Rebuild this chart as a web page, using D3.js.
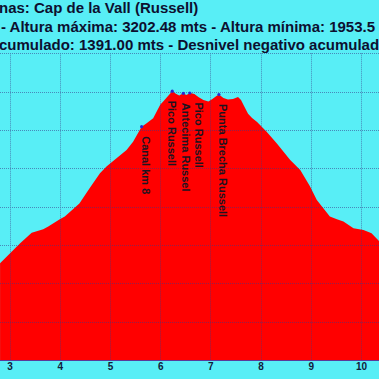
<!DOCTYPE html>
<html><head><meta charset="utf-8">
<script src="https://cdn.jsdelivr.net/npm/d3@7/dist/d3.min.js"></script>
<style>
html,body{margin:0;padding:0;background:#58eef6;overflow:hidden;}
svg{display:block;}
</style></head>
<body>
<svg id="chart" width="379" height="379"></svg>
<script>
// ---- data ----
const titleLines = [
  "nas: Cap de la Vall (Russell)",
  "- Altura máxima: 3202.48 mts - Altura mínima: 1953.5",
  "cumulado: 1391.00 mts - Desnivel negativo acumulado"
];
const kmTicks = [3, 4, 5, 6, 7, 8, 9, 10];
const elevTicks = [1800, 2000, 2200, 2400, 2600, 2800, 3000, 3200, 3400];

const profileKm = [2.81, 3.01, 3.21, 3.44, 3.67, 3.77, 4.00, 4.10, 4.39, 4.59, 4.80, 4.93, 5.13, 5.33, 5.46,
  5.63, 5.73, 5.86, 5.93, 6.00, 6.06, 6.16, 6.24, 6.32, 6.38, 6.46, 6.52, 6.60, 6.68, 6.76, 6.86, 6.96,
  7.04, 7.12, 7.17, 7.26, 7.35, 7.45, 7.55, 7.61, 7.67, 7.75, 7.83, 7.93, 8.12, 8.32, 8.59, 8.79, 8.98,
  9.12, 9.25, 9.38, 9.52, 9.65, 9.85, 10.05, 10.21, 10.36];
const profileElev = [2305, 2357, 2409, 2464, 2482, 2496, 2534, 2548, 2617, 2695, 2774, 2809, 2852, 2896, 2939,
  3017, 3035, 3061, 3096, 3131, 3148, 3179, 3202, 3188, 3180, 3191, 3183, 3193, 3188, 3172, 3157, 3149,
  3162, 3177, 3185, 3167, 3159, 3162, 3172, 3157, 3125, 3084, 3063, 3042, 2991, 2931, 2844, 2791, 2708,
  2635, 2592, 2548, 2534, 2522, 2487, 2478, 2461, 2421];

const waypointNames = ["Canal km 8", "Pico Russell", "Antecima Russel", "Pico Russell", "Punta Brecha Russell"];
const waypointKm = [5.63, 6.24, 6.46, 6.59, 7.17];
const waypointElev = [3017, 3202.48, 3191, 3193, 3185];

// ---- drawing ----
const W = 379, H = 379;
const svg = d3.select("#chart");
const x = d3.scaleLinear().domain([3, 10]).range([9.6, 361]);
const y = d3.scaleLinear().domain([1800, 3400]).range([360, 53.3]);

svg.append("rect").attr("width", W).attr("height", H).attr("fill", "#58eef6");

const profile = profileKm.map((k, i) => ({ km: k, elev: profileElev[i] }));
const area = d3.area().x(d => x(d.km)).y0(y(1800)).y1(d => y(d.elev));
svg.append("path").datum(profile).attr("d", area).attr("fill", "#ff0000");

// gridlines
const grid = svg.append("g").attr("stroke", "#3a3a8a").attr("stroke-width", 1)
  .attr("stroke-dasharray", "1,1").attr("opacity", 0.55);
grid.selectAll("line.v").data(kmTicks).join("line")
  .attr("x1", d => Math.round(x(d)) + 0.5).attr("x2", d => Math.round(x(d)) + 0.5)
  .attr("y1", y(3400)).attr("y2", y(1800));
grid.selectAll("line.h").data(elevTicks.filter(e => e > 1800)).join("line")
  .attr("x1", 0).attr("x2", W)
  .attr("y1", d => Math.round(y(d)) + 0.5).attr("y2", d => Math.round(y(d)) + 0.5);

// x axis
const xAxis = d3.axisBottom(x).tickValues(kmTicks).tickSize(0).tickPadding(3).tickFormat(d3.format("d"));
const ax = svg.append("g").attr("transform", `translate(0,${y(1800)})`).call(xAxis);
ax.select(".domain").attr("stroke", "#5a3a9a").attr("d", `M0,0.5H${W}`);
ax.selectAll("text").attr("fill", "#10203a").attr("font-family", "Liberation Sans, Arial, sans-serif")
  .attr("font-weight", "bold").attr("font-size", 10);

// waypoint markers
const wp = waypointNames.map((n, i) => ({ name: n, km: waypointKm[i], elev: waypointElev[i] }));
svg.selectAll("circle.wp").data(wp).join("circle")
  .attr("cx", d => x(d.km)).attr("cy", d => y(d.elev)).attr("r", 1.6).attr("fill", "#2b2bd0");

// label placement with collision avoidance
const minGap = 13.5;
let pos = wp.map(d => x(d.km));
for (let it = 0; it < 50; it++) {
  for (let i = 1; i < pos.length; i++) {
    const gap = pos[i] - pos[i - 1];
    if (gap < minGap) {
      const push = (minGap - gap) / 2;
      pos[i - 1] -= push; pos[i] += push;
    }
  }
}
svg.selectAll("text.wp").data(wp).join("text")
  .attr("transform", (d, i) => `translate(${pos[i]},${y(d.elev) + 9.5}) rotate(90)`)
  .attr("fill", "#1c1420").attr("font-family", "Liberation Sans, Arial, sans-serif")
  .attr("font-weight", "bold").attr("font-size", 11)
  .text(d => d.name);

// title
svg.selectAll("text.title").data(titleLines).join("text")
  .attr("x", (d, i) => [-1, 1, -1][i]).attr("y", (d, i) => 13 + i * 18.5)
  .attr("fill", "#0d1030").attr("font-family", "Liberation Sans, Arial, sans-serif")
  .attr("font-weight", "bold").attr("font-size", 15)
  .text(d => d);
</script>
</body></html>
